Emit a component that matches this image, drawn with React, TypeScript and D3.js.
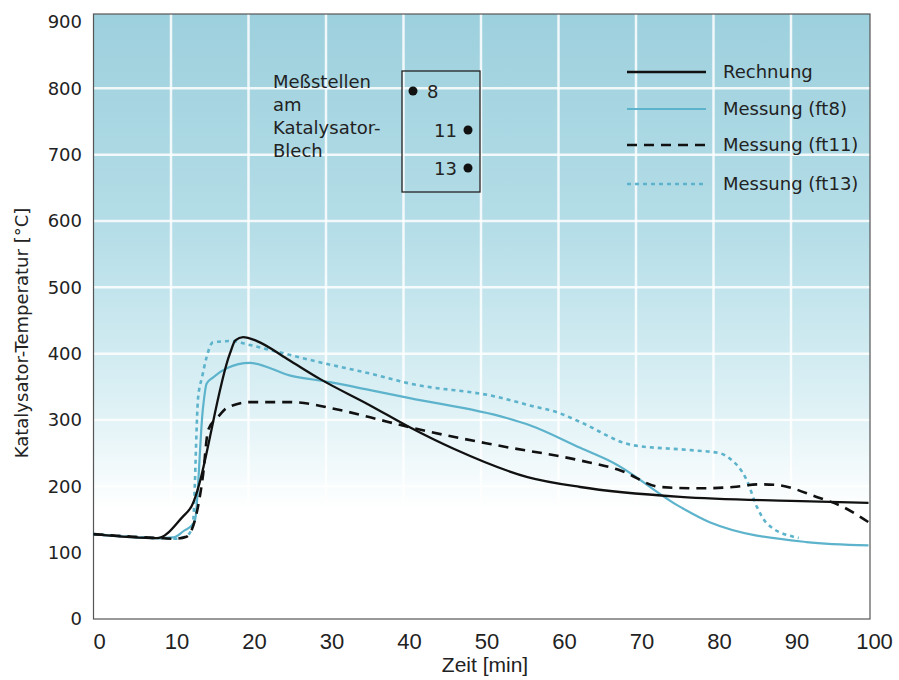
import React from "react";
import * as d3 from "d3";

// Zeit [min] / Temperatur [°C]
const rechnungX = [0, 8.3, 11.5, 12.5, 17.6, 18.3, 19.3, 21.1, 25, 29.2, 35.7, 40.8, 46.4, 56, 62.8, 75.7, 90, 100];
const rechnungY = [128, 122, 154, 167, 400, 420, 425, 419, 392, 362, 322, 289, 257, 214, 199, 184, 178, 175];

const ft8X = [0, 8.3, 10.3, 11.8, 12.5, 13.1, 14.1, 14.6, 15.4, 17.2, 20.2, 25.4, 30.5, 35.7, 40.8, 53.3, 56.3, 62.8, 67, 75.7, 79.5, 92, 100];
const ft8Y = [128, 122, 123, 134, 139, 149, 315, 355, 364, 378, 386, 367, 357, 345, 333, 303, 292, 258, 236, 169, 146, 116, 111];

const ft11X = [0, 8.3, 10.5, 12, 14.1, 14.8, 16.1, 17.2, 20.2, 25.4, 31.8, 35.7, 40.8, 52, 62.8, 68, 73.1, 78.3, 82.5, 86, 88.2, 93.3, 96.7, 100];
const ft11Y = [128, 122, 121, 124, 214, 285, 305, 318, 327, 327, 315, 304, 289, 262, 239, 224, 199, 197, 199, 203, 202, 184, 169, 146];

const ft13X = [0, 8.3, 10.5, 12, 12.8, 13.5, 14, 14.6, 15.4, 17.6, 20.2, 24, 29.2, 35.7, 40.8, 52, 56.3, 60.2, 62.8, 69.6, 76.6, 80.8, 82.1, 84.3, 85.6, 86.9, 90.3, 91];
const ft13Y = [128, 122, 121, 125, 140, 334, 364, 395, 417, 419, 413, 402, 387, 370, 355, 335, 322, 310, 297, 262, 255, 250, 242, 209, 169, 144, 124, 122];

const xTicks = [0, 10, 20, 30, 40, 50, 60, 70, 80, 90, 100];
const yTicks = [0, 100, 200, 300, 400, 500, 600, 700, 800, 900];

const legendLabels = ["Rechnung", "Messung (ft8)", "Messung (ft11)", "Messung (ft13)"];
const messstellen = ["8", "11", "13"];

const BLUE = "#5cb3cb";
const FONT = "'DejaVu Sans', Arial, sans-serif";
const NARROW = "'Liberation Sans Narrow', 'Liberation Sans', Arial, sans-serif";

export default function App() {
  const width = 899;
  const height = 680;
  const left = 93.5, right = 870, top = 14, bottom = 619;

  const x = d3.scaleLinear().domain([0, 100]).range([left, 868.5]);
  const y = d3.scaleLinear().domain([0, 900]).range([bottom, 22]);

  const line = d3
    .line<[number, number]>()
    .x(d => x(d[0]))
    .y(d => y(d[1]))
    .curve(d3.curveMonotoneX);

  const zip = (xs: number[], ys: number[]) => xs.map((v, i) => [v, ys[i]] as [number, number]);

  const series = [
    { d: zip(ft8X, ft8Y), stroke: BLUE, width: 2.2, dash: undefined },
    { d: zip(ft13X, ft13Y), stroke: BLUE, width: 2.6, dash: "4 4" },
    { d: zip(ft11X, ft11Y), stroke: "#111", width: 2.6, dash: "10 7" },
    { d: zip(rechnungX, rechnungY), stroke: "#111", width: 2.3, dash: undefined }
  ];
  const legendStyles = [series[3], series[0], series[2], series[1]];
  const legendRows = [72, 109, 145, 184];

  return (
    <div style={{ position: "fixed", left: 0, top: 0, width, height, overflow: "hidden", background: "#fff" }}>
      <svg width={width} height={height} style={{ display: "block" }}>
        <defs>
          <linearGradient id="bg" x1="0" y1="0" x2="0" y2="1">
            <stop offset="0%" stopColor="#9dd0dd" />
            <stop offset="35%" stopColor="#b4dde7" />
            <stop offset="62%" stopColor="#d9eff4" />
            <stop offset="82%" stopColor="#ffffff" />
            <stop offset="100%" stopColor="#ffffff" />
          </linearGradient>
        </defs>
        <rect x={left} y={top} width={right - left} height={bottom - top} fill="url(#bg)" />

        {/* grid */}
        {xTicks.slice(1, -1).map(t => (
          <line key={"gx" + t} x1={x(t)} x2={x(t)} y1={top} y2={bottom} stroke="#fff" strokeWidth={2.5} opacity={0.85} />
        ))}
        {yTicks.slice(1, -1).map(t => (
          <line key={"gy" + t} x1={left} x2={right} y1={y(t)} y2={y(t)} stroke="#fff" strokeWidth={2.5} opacity={0.85} />
        ))}

        {/* frame */}
        <rect x={left} y={top} width={right - left} height={bottom - top} fill="none" stroke="#555" strokeWidth={1.2} />

        {/* ticks */}
        <g fontFamily={FONT} fontSize={18} fill="#222">
          {yTicks.map(t => (
            <text key={"ty" + t} x={82} y={y(t)} dy="0.36em" textAnchor="end">{t}</text>
          ))}
          {xTicks.map(t => (
            <text key={"tx" + t} x={x(t) + 6} y={649} textAnchor="middle" fontFamily={NARROW} fontSize={22}>{t}</text>
          ))}
          <text x={485} y={672} textAnchor="middle" fontFamily={NARROW} fontSize={21}>Zeit [min]</text>
          <text transform="translate(28,333) rotate(-90)" textAnchor="middle">Katalysator-Temperatur [°C]</text>
        </g>

        {/* curves */}
        {series.map((s, i) => (
          <path key={i} d={line(s.d) || ""} fill="none" stroke={s.stroke} strokeWidth={s.width} strokeDasharray={s.dash} strokeLinejoin="round" />
        ))}

        {/* legend */}
        <g fontFamily={FONT} fontSize={18} fill="#222">
          {legendLabels.map((l, i) => {
            const ly = legendRows[i];
            const st = legendStyles[i];
            return (
              <g key={l}>
                <line x1={627} x2={706} y1={ly} y2={ly} stroke={st.stroke} strokeWidth={st.width} strokeDasharray={st.dash} />
                <text x={723} y={ly} dy="0.36em">{l}</text>
              </g>
            );
          })}
        </g>

        {/* Messstellen */}
        <g fontFamily={FONT} fontSize={18} fill="#222">
          {["Meßstellen", "am", "Katalysator-", "Blech"].map((t, i) => (
            <text key={t} x={273} y={82 + i * 23} dy="0.36em">{t}</text>
          ))}
          <rect x={402} y={71} width={78} height={121} fill="none" stroke="#222" strokeWidth={1.3} />
          <circle cx={413} cy={91} r={4.5} fill="#111" />
          <text x={427} y={92} dy="0.36em">{messstellen[0]}</text>
          <circle cx={468} cy={130} r={4.5} fill="#111" />
          <text x={457} y={131} dy="0.36em" textAnchor="end">{messstellen[1]}</text>
          <circle cx={468} cy={168} r={4.5} fill="#111" />
          <text x={457} y={169} dy="0.36em" textAnchor="end">{messstellen[2]}</text>
        </g>
      </svg>
    </div>
  );
}
